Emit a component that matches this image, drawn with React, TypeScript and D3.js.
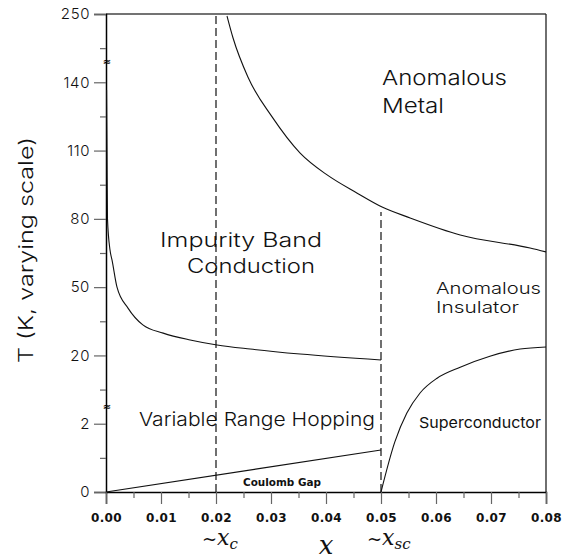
import React, { useRef, useEffect } from "react";
import * as d3 from "d3";

// y axis uses a varying (piecewise) scale: equal spacing between labelled ticks
const yTicks = [0, 2, 20, 50, 80, 110, 140, 250];
const yMinorTicks = [1, 11, 35, 65, 95, 125, 195];
const yBreaks = [6.4, 172.7];

const xTicks = [0, 0.01, 0.02, 0.03, 0.04, 0.05, 0.06, 0.07, 0.08];
const xMinorTicks = [0.005, 0.015, 0.025, 0.035, 0.045, 0.055, 0.065, 0.075];

// boundaries [x, T]
const impurityBand: [number, number][] = [
  [0.0001, 136.6], [0.00018, 110], [0.00027, 80], [0.00073, 66.3], [0.0011, 61.9],
  [0.002, 50], [0.004, 40.8], [0.0067, 33.4], [0.0104, 29.8], [0.0153, 26.8],
  [0.0202, 24.6], [0.0262, 22.8], [0.0353, 20.6], [0.05, 18.8],
];
const metal: [number, number][] = [
  [0.022, 246.8], [0.0231, 211.3], [0.0258, 148.5], [0.0302, 124.8], [0.0353, 108.9],
  [0.0402, 99.3], [0.0456, 91.4], [0.0502, 85.2], [0.0553, 80.4], [0.0644, 72.9],
  [0.0771, 67.2], [0.08, 65.5],
];
const superconductor: [number, number][] = [
  [0.05, 0], [0.0525, 1.46], [0.0547, 4.8], [0.0571, 10.1], [0.0602, 14.0],
  [0.0644, 16.9], [0.0698, 19.8], [0.0753, 22.8], [0.08, 23.7],
];
const coulombGap: [number, number][] = [[0, 0], [0.05, 1.23]];
const xcLine: [number, number][] = [[0.02, 0], [0.02, 250]];
const xscLine: [number, number][] = [[0.05, 0], [0.05, 83]];

export default function App() {
  const svgRef = useRef<SVGSVGElement>(null);

  useEffect(() => {
    if (!svgRef.current) return;
    const svg = d3.select(svgRef.current);
    svg.selectAll("*").remove();

    const width = 563;
    const height = 560;
    const left = 106, right = 546, top = 14, bottom = 492;
    const font = "'DejaVu Sans', sans-serif";
    const light = "Inter, 'DejaVu Sans', sans-serif";

    svg.attr("width", width).attr("height", height);
    svg.append("rect").attr("width", width).attr("height", height).attr("fill", "#fff");

    const x = d3.scaleLinear().domain([0, 0.08]).range([left, right]);
    const yRange = yTicks.map((_, i) => bottom - (i * (bottom - top)) / (yTicks.length - 1));
    const y = d3.scaleLinear().domain(yTicks).range(yRange);

    // frame (top & right)
    svg.append("line").attr("x1", left).attr("x2", right).attr("y1", top).attr("y2", top)
      .attr("stroke", "#444").attr("stroke-width", 1.3);
    svg.append("line").attr("x1", right).attr("x2", right).attr("y1", top).attr("y2", bottom)
      .attr("stroke", "#222").attr("stroke-width", 1.3);

    // Y axis
    const yAxis = svg.append("g").attr("transform", `translate(${left},0)`)
      .call(d3.axisLeft(y).tickValues(yTicks).tickSize(12).tickPadding(4).tickFormat(d3.format("d")));
    yAxis.selectAll("text").attr("font-family", light).attr("font-weight", 300)
      .attr("font-size", "15px").attr("letter-spacing", "0.6px").attr("fill", "#111");
    const yMinor = svg.append("g").attr("transform", `translate(${left},0)`)
      .call(d3.axisLeft(y).tickValues(yMinorTicks).tickSize(6).tickFormat(() => ""));
    yMinor.select(".domain").remove();

    // X axis
    const xAxis = svg.append("g").attr("transform", `translate(0,${bottom})`)
      .call(d3.axisBottom(x).tickValues(xTicks).tickSize(12).tickPadding(9).tickFormat(d3.format(".2f")));
    xAxis.selectAll("text").attr("font-family", font).attr("font-size", "12px")
      .attr("font-weight", "bold").attr("letter-spacing", "0.4px").attr("fill", "#111");
    const xMinor = svg.append("g").attr("transform", `translate(0,${bottom})`)
      .call(d3.axisBottom(x).tickValues(xMinorTicks).tickSize(6).tickFormat(() => ""));
    xMinor.select(".domain").remove();

    svg.selectAll(".tick line").attr("stroke", "#666").attr("stroke-width", 1.2);
    svg.selectAll(".domain").attr("stroke", "#000").attr("stroke-width", 1.5);

    // axis break marks
    yBreaks.forEach((v) => {
      svg.append("text").attr("x", left + 1).attr("y", y(v) + 3).attr("text-anchor", "middle")
        .attr("font-family", font).attr("font-size", "10px").attr("font-weight", "bold").text("≈");
    });

    const line = d3.line<[number, number]>().x((d) => x(d[0])).y((d) => y(d[1]));
    const curve = d3.line<[number, number]>().x((d) => x(d[0])).y((d) => y(d[1])).curve(d3.curveMonotoneX);

    // dashed guides
    [xcLine, xscLine].forEach((d) => {
      svg.append("path").datum(d).attr("d", line).attr("fill", "none")
        .attr("stroke", "#111").attr("stroke-width", 1.2).attr("stroke-dasharray", "8,4");
    });

    [impurityBand, metal, superconductor].forEach((d) => {
      svg.append("path").datum(d).attr("d", curve).attr("fill", "none")
        .attr("stroke", "#111").attr("stroke-width", 1.1);
    });
    svg.append("path").datum(coulombGap).attr("d", line).attr("fill", "none")
      .attr("stroke", "#111").attr("stroke-width", 1.1);

    // region labels
    const label = (t: string, px: number, py: number, size: number, len: number, weight: string | number = 300, fam = light) =>
      svg.append("text").attr("x", px).attr("y", py).attr("font-family", fam)
        .attr("font-size", `${size}px`).attr("font-weight", weight).attr("fill", "#111")
        .attr("textLength", len).attr("lengthAdjust", "spacingAndGlyphs").text(t);

    label("Anomalous", 382, 85, 20.5, 125);
    label("Metal", 382, 113, 20.5, 62);
    label("Impurity Band", 160, 247, 20, 162);
    label("Conduction", 187, 273, 20, 128);
    label("Anomalous", 436, 294, 16.5, 105);
    label("Insulator", 436, 313, 16.5, 83);
    label("Variable Range Hopping", 139, 426, 19, 236);
    label("Superconductor", 419, 428, 15, 122, 400);
    label("Coulomb Gap", 243, 486, 10.5, 78, "bold", font);

    // y title
    svg.append("text").attr("transform", `translate(33,250) rotate(-90)`).attr("text-anchor", "middle")
      .attr("font-family", light).attr("font-weight", 300).attr("font-size", "20px").attr("fill", "#111")
      .attr("textLength", 226).attr("lengthAdjust", "spacingAndGlyphs")
      .text("T (K, varying scale)");

    // x annotations (math style)
    const math = "'DejaVu Serif', 'Liberation Serif', serif";
    const ann = (px: number, sub: string) => {
      const t = svg.append("text").attr("x", px).attr("y", 545).attr("font-family", math).attr("fill", "#111");
      t.append("tspan").attr("font-size", "18px").text("~");
      t.append("tspan").attr("font-size", "22px").attr("font-style", "italic").text("x");
      t.append("tspan").attr("font-size", "15px").attr("font-style", "italic").attr("dy", 4).text(sub);
    };
    ann(202, "c");
    ann(367, "sc");
    svg.append("text").attr("x", x(0.04)).attr("y", 554).attr("text-anchor", "middle")
      .attr("font-family", math).attr("font-size", "26px").attr("font-style", "italic")
      .attr("fill", "#111").text("x");
  }, []);

  return (
    <div style={{ position: "absolute", left: 0, top: 0 }}>
      <svg ref={svgRef} />
    </div>
  );
}
